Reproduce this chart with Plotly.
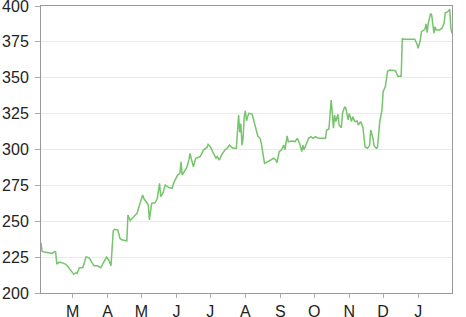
import pandas as pd
import plotly.graph_objects as go

start_date = "2013-02-01"
# day offsets from start_date and closing values
days = [0, 1, 3, 6, 8, 10, 12, 13, 14, 16, 19, 22, 24, 27, 29, 31, 32, 34, 37, 40,
        43, 45, 47, 50, 53, 55, 58, 60, 61, 62, 64, 65, 68, 70, 72, 76, 77, 79, 82, 85,
        87, 90, 91, 93, 95, 96, 98, 101, 103, 105, 106, 108, 110, 113, 116, 118, 121, 123, 124, 125,
        127, 129, 131, 132, 133, 135, 137, 139, 141, 144, 147, 148, 150, 152, 155, 156, 158, 160, 163, 165,
        167, 169, 170, 173, 174, 175, 176, 177, 178, 179, 180, 181, 182, 184, 187, 188, 190, 192, 194, 195,
        197, 198, 201, 204, 206, 208, 209, 211, 213, 215, 216, 218, 219, 222, 225, 227, 229, 231, 232, 233,
        235, 237, 239, 241, 243, 246, 252, 253, 255, 256, 257, 258, 259, 260, 261, 263, 264, 266, 267, 269,
        270, 272, 273, 275, 276, 278, 280, 281, 283, 285, 286, 287, 289, 291, 292, 294, 295, 297, 298, 299,
        300, 302, 303, 305, 306, 307, 309, 314, 316, 319, 320, 321, 331, 333, 334, 336, 337, 339, 340, 341,
        342, 343, 344, 345, 346, 348, 349, 350, 353, 355, 357, 358, 360, 361, 362, 363, 364]
values = [235, 229, 228.5, 228.3, 227.8, 227.6, 228.8, 228.5, 220, 221.5, 221, 220, 218.3, 215, 213, 214, 213.7, 217.6, 217.6, 225.3,
          224.2, 221.4, 219, 219, 217.6, 220.7, 225, 223, 220, 219, 243.4, 244.4, 243.9, 238, 236.9, 236.4, 254.4, 250.4, 253.2, 255.5,
          260.6, 268.3, 266, 263.6, 261.3, 250.9, 262.5, 262.9, 266, 276.4, 267.1, 269.5, 275.3, 273.6, 273, 277.6, 282.2, 283.4, 291.5, 282.2,
          284.5, 287.3, 292.7, 297.3, 293.9, 288, 293.9, 294.4, 295.1, 299.8, 301.4, 303.6, 302, 298.5, 293.9, 295.1, 292.7, 296.2, 299.8, 300.9,
          303.1, 301.4, 300.9, 300.9, 314, 324, 312, 318, 303, 308, 323, 327, 320, 325.2, 324.7, 321.7, 315.9, 309.4, 307.8, 304.8,
          295, 290.4, 291.5, 293, 293.9, 292.7, 290.8, 298.5, 299.8, 303.1, 299.8, 309.5, 305.4, 305.9, 305.5, 307.8, 304.3, 298.5, 303.1, 299.8,
          304.3, 307.8, 308.9, 307.8, 308.9, 307.8, 307.8, 313.6, 314.3, 325.2, 334.5, 325.2, 314.8, 324, 319.4, 324.5, 317.1, 315.2, 325.2, 329.8,
          328.7, 320.6, 325.2, 319.4, 322.9, 319.4, 319.9, 317.1, 319.4, 315.9, 307.8, 301.9, 300.9, 302.7, 313.6, 307.8, 302.7, 300.9, 301.3, 310.1,
          319.4, 327.5, 340.3, 343.8, 351.9, 354.7, 355.4, 354.9, 351, 351, 377.5, 376.8, 376.8, 373.5, 370.5, 376.5, 382.1, 383.3, 383.7, 387.5,
          381.4, 387.9, 392.6, 394.9, 393.7, 381, 385.6, 383.3, 383.3, 384.4, 387.9, 395.3, 395.9, 396.7, 397.7, 384.4, 381]

tick_dates = ["2013-03-01", "2013-04-01", "2013-05-01", "2013-06-01", "2013-07-01", "2013-08-01",
              "2013-09-01", "2013-10-01", "2013-11-01", "2013-12-01", "2014-01-01"]
tick_labels = ["M", "A", "M", "J", "J", "A", "S", "O", "N", "D", "J"]
y_ticks = [200, 225, 250, 275, 300, 325, 350, 375, 400]

dates = pd.Timestamp(start_date) + pd.to_timedelta(days, unit="D")

fig = go.Figure()
fig.add_trace(go.Scatter(x=dates, y=values, mode="lines",
                         line=dict(color="#76c46c", width=1.5), hoverinfo="skip"))

fig.update_layout(
    width=466, height=317,
    margin=dict(l=41, r=14, t=6, b=24, autoexpand=False),
    paper_bgcolor="white", plot_bgcolor="white",
    showlegend=False,
    font=dict(family="Liberation Sans, Arial, sans-serif", size=16, color="#222"),
)
fig.update_xaxes(
    range=[dates[0], dates[-1]],
    tickvals=tick_dates, ticktext=tick_labels,
    ticks="outside", ticklen=4, tickcolor="#aaa",
    showgrid=False, showline=True, linecolor="#999", linewidth=1, mirror=True,
    zeroline=False, automargin=False, ticklabeloverflow="allow",
)
fig.update_yaxes(
    range=[200, 400], tickvals=y_ticks,
    ticks="outside", ticklen=5, tickcolor="#aaa",
    showgrid=True, gridcolor="#ebebeb", gridwidth=1,
    showline=True, linecolor="#999", linewidth=1, mirror=True,
    zeroline=False, automargin=False, ticklabeloverflow="allow",
    ticklabelstandoff=3,
)

fig.write_html("out.html")
